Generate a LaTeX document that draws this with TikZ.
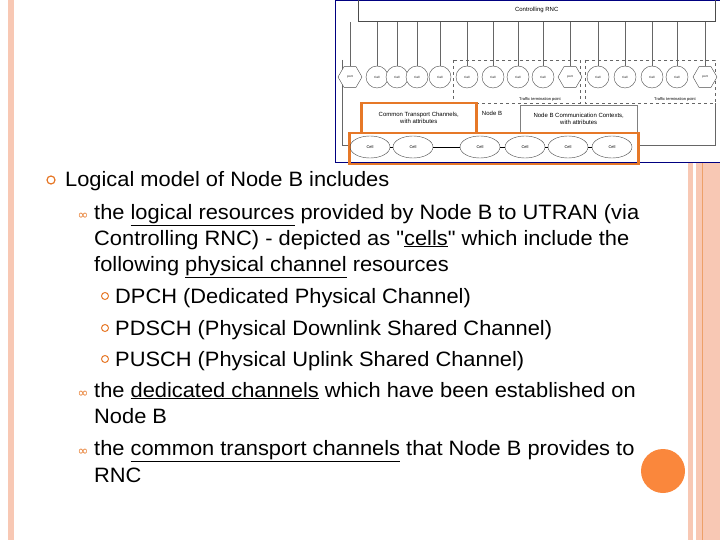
\documentclass[tikz,border=0pt]{standalone}
\usepackage{fontspec}
\setmainfont{Liberation Sans}
\newfontfamily\bodyf[FakeStretch=1.05]{Liberation Sans}
\newfontfamily\dv{DejaVu Sans}
\usetikzlibrary{shapes.geometric}
\definecolor{salmon}{RGB}{248,200,180}
\definecolor{org}{RGB}{230,120,40}
\definecolor{ball}{RGB}{250,135,60}
\begin{document}
\begin{tikzpicture}[x=1pt,y=-1pt,
  txt/.style={anchor=base west,inner sep=0pt,font=\bodyf\fontsize{20.8}{24}\selectfont},
  lone/.style={circle,draw=org,line width=1.2pt,minimum size=8pt,inner sep=0pt},
  lthree/.style={circle,draw=org,line width=1pt,minimum size=7pt,inner sep=0pt},
  ltwo/.style={anchor=base,inner sep=0pt,text=org,font=\dv\fontsize{13}{13}\selectfont},
  cellc/.style={circle,draw=black!70,fill=white,minimum size=22pt,inner sep=0pt,font=\fontsize{3}{3}\selectfont},
  hexc/.style={regular polygon,regular polygon sides=6,draw=black!70,fill=white,minimum size=24pt,inner sep=0pt,font=\fontsize{3}{3}\selectfont},
  cellel/.style={ellipse,draw=black!70,minimum width=40pt,minimum height=22pt,inner sep=0pt,font=\fontsize{4}{4}\selectfont},
  lbl/.style={inner sep=1pt,font=\fontsize{6}{7}\selectfont,align=center}]
\useasboundingbox (0,0) rectangle (720,540);
% decorations
\fill[salmon] (8,0) rectangle (14,540);
\fill[salmon] (688,162) rectangle (693,540);
\fill[salmon] (696,162) rectangle (720,540);
\draw[org!70,line width=0.8pt] (702,162) -- (702,540);
\node[circle,fill=ball,minimum size=44pt,inner sep=0pt] (ball) at (663,471) {};
% figure
\draw[blue!50!black,line width=0.8pt,fill=white] (335,0) rectangle (720,162);
\node[draw=black!70,minimum width=357pt,minimum height=22pt,anchor=north west,lbl] (rnc) at (358,-1) {Controlling RNC};
\draw[black!60,dashed] (453,60) rectangle (580,103);
\draw[black!60,dashed] (585,60) rectangle (715,103);
\node[lbl,font=\fontsize{4}{4}\selectfont] (tp1) at (540,99) {Traffic termination point};
\node[lbl,font=\fontsize{4}{4}\selectfont] (tp2) at (675,99) {Traffic termination point};
\draw[black!60] (342,60) -- (342,145) -- (348,145);
\draw[black!60] (637,145) -- (715,145) -- (715,103);
\foreach \x/\n in {350/h1,570/h2,705/h3}{
  \node[hexc] (\n) at (\x,77) {port};
  \draw[black!60] (\n) -- (\x,22);}
\foreach \x [count=\i] in {377,397,417,440,467,493,518,543,598,625,652,677}{
  \node[cellc] (c\i) at (\x,77) {Cell};
  \draw[black!60] (c\i) -- (\x,22);}
\node[draw=org,line width=2.5pt,fill=white,minimum width=115pt,minimum height=30pt,anchor=north west,lbl] (ctc) at (360,102) {Common Transport Channels,\\ with attributes};
\node[lbl] (nb) at (492,113) {Node B};
\node[draw=black!50,minimum width=117pt,minimum height=27pt,anchor=north west,lbl] (nbc) at (520,105) {Node B Communication Contexts,\\ with attributes};
\node[draw=org,line width=2.5pt,minimum width=289pt,minimum height=31pt,anchor=north west] (cells) at (348,132) {};
\foreach \x [count=\i] in {370,413,480,525,568,612}{
  \node[cellel] (e\i) at (\x,147) {Cell};}
\draw (e1) -- (e2) (e2) -- (e3) (e3) -- (e4) (e4) -- (e5) (e5) -- (e6);
% text
\node[lone] (b1) at (51,180) {};
\node[txt] (t1) at (65,187) {Logical model of Node B includes};
\node[ltwo] (s1) at (83,219) {∞};
\node[txt] (t2) at (94,219) {the \underline{logical resources} provided by Node B to UTRAN (via};
\node[txt] (t3) at (94,245) {Controlling RNC) - depicted as \char"22\underline{cells}\char"22{} which include the};
\node[txt] (t4) at (94,271) {following \underline{physical channel} resources};
\node[lthree] (d1) at (105,296) {};
\node[txt] (t5) at (115,303) {DPCH (Dedicated Physical Channel)};
\node[lthree] (d2) at (105,328) {};
\node[txt] (t6) at (115,335) {PDSCH (Physical Downlink Shared Channel)};
\node[lthree] (d3) at (105,359) {};
\node[txt] (t7) at (115,366) {PUSCH (Physical Uplink Shared Channel)};
\node[ltwo] (s2) at (83,397) {∞};
\node[txt] (t8) at (94,397) {the \underline{dedicated channels} which have been established on};
\node[txt] (t9) at (94,423) {Node B};
\node[ltwo] (s3) at (83,455) {∞};
\node[txt] (t10) at (94,455) {the \underline{common transport channels} that Node B provides to};
\node[txt] (t11) at (94,482) {RNC};
\end{tikzpicture}
\end{document}
